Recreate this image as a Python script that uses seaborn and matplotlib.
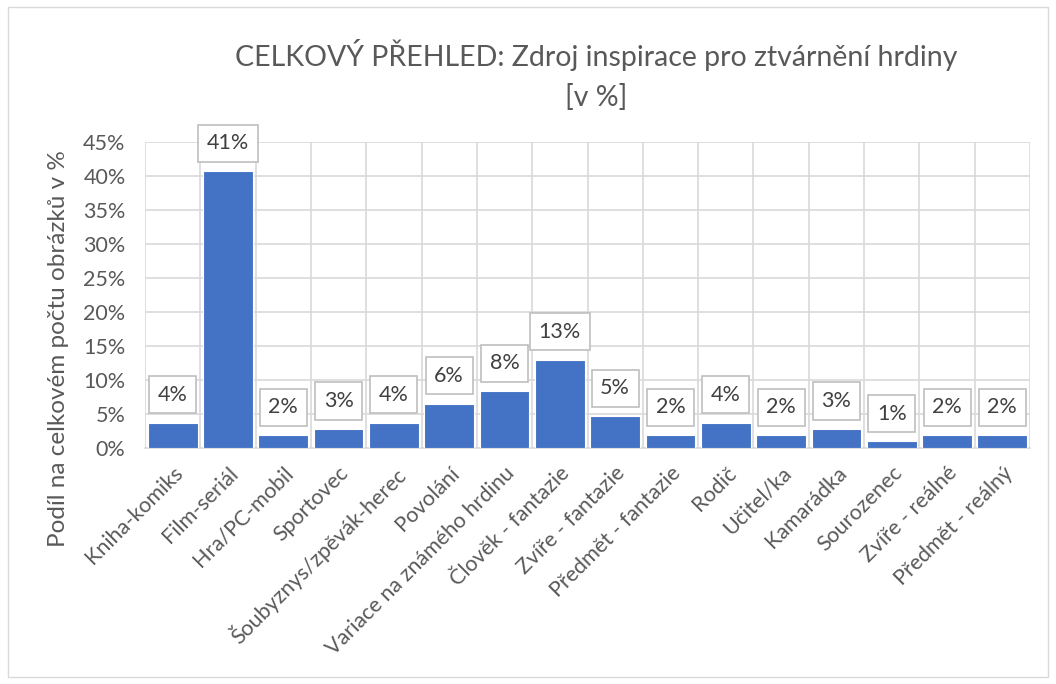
import numpy as np
import pandas as pd
import matplotlib.pyplot as plt
import seaborn as sns
from matplotlib.patches import Rectangle

# data
kategorie = ['Kniha-komiks', 'Film-seriál', 'Hra/PC-mobil', 'Sportovec',
             'Šoubyznys/zpěvák-herec', 'Povolání', 'Variace na známého hrdinu',
             'Člověk - fantazie', 'Zvíře - fantazie', 'Předmět - fantazie',
             'Rodič', 'Učitel/ka', 'Kamarádka', 'Sourozenec',
             'Zvíře - reálné', 'Předmět - reálný']
podil = [3.7, 40.7, 1.85, 2.78, 3.7, 6.48, 8.33, 12.96, 4.63, 1.85,
         3.7, 1.85, 2.78, 0.93, 1.85, 1.85]
popisky = ['4%', '41%', '2%', '3%', '4%', '6%', '8%', '13%', '5%', '2%',
           '4%', '2%', '3%', '1%', '2%', '2%']
yticks = [0, 5, 10, 15, 20, 25, 30, 35, 40, 45]

sns.set_style('white')
plt.rcParams['font.family'] = ['Lato', 'DejaVu Sans']

data = pd.DataFrame({'kat': kategorie, 'podil': podil})

fig = plt.figure(figsize=(10.56, 6.84), dpi=100)
ax = fig.add_axes([0.1373, 0.3455, 0.8381, 0.4473])

sns.barplot(data=data, x='kat', y='podil', color='#4472C4', saturation=1,
            width=0.9, edgecolor='white', linewidth=0.8, ax=ax, zorder=3)

ax.set_xlim(-0.5, len(kategorie) - 0.5)
ax.set_ylim(0, 45)
ax.set_yticks(yticks)
ax.set_yticklabels([f'{t}%' for t in yticks], fontsize=15.5, color='#595959')
ax.set_xticks(range(len(kategorie)))
ax.set_xticklabels(kategorie, rotation=45, ha='right', rotation_mode='anchor',
                   fontsize=15.5, color='#595959')
ax.set_xticks(np.arange(len(kategorie) + 1) - 0.5, minor=True)
ax.tick_params(axis='both', length=0)
ax.tick_params(axis='y', pad=14)
ax.tick_params(axis='x', pad=11)
ax.grid(axis='y', which='major', color='#d9d9d9', linewidth=1.2, zorder=0)
ax.grid(axis='x', which='minor', color='#d9d9d9', linewidth=1.2, zorder=0)
ax.grid(axis='x', which='major', visible=False)
for s in ['top', 'right', 'left']:
    ax.spines[s].set_visible(False)
ax.spines['bottom'].set_color('#d9d9d9')
ax.spines['bottom'].set_linewidth(1.2)
ax.set_xlabel('')
ax.set_ylabel('')

# popisky dat
for i, (v, t) in enumerate(zip(podil, popisky)):
    ax.annotate(t, (i, v), xytext=(0, 20), textcoords='offset points',
                ha='center', va='center', fontsize=15.5, color='#404040',
                bbox=dict(boxstyle='square,pad=0.4', fc='white',
                          ec='#bfbfbf', lw=1.2), zorder=5)

fig.text(0.5648, 0.890, 'CELKOVÝ PŘEHLED: Zdroj inspirace pro ztvárnění hrdiny\n[v %]',
         ha='center', va='center', fontsize=20.5, color='#595959', linespacing=1.58)
fig.text(0.055, 0.491, 'Podíl na celkovém počtu obrázků v %', rotation=90,
         ha='center', va='center', fontsize=17.5, color='#595959')

fig.patches.append(Rectangle((0.008, 0.01), 0.984, 0.98, transform=fig.transFigure,
                             fill=False, ec='#d9d9d9', lw=1))

fig.savefig('out.png', dpi=100, facecolor='white')
